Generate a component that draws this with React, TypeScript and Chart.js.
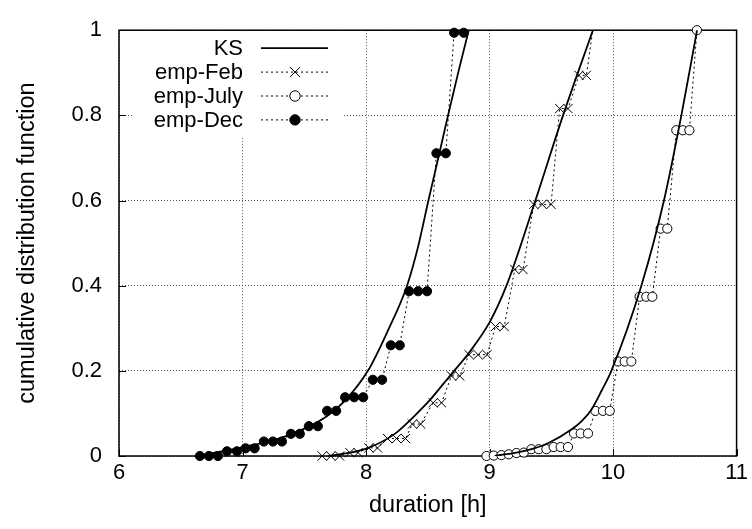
import React, { useEffect, useRef } from 'react';
import { Chart, registerables } from 'chart.js';

Chart.register(...registerables);

// ---- data (hours, cumulative fraction) ----
const decX = [6.655, 6.728, 6.801, 6.874, 6.955, 7.025, 7.098, 7.173, 7.246, 7.319, 7.392, 7.464, 7.537, 7.610, 7.685, 7.758, 7.831, 7.904, 7.977, 8.055, 8.130, 8.201, 8.273, 8.349, 8.422, 8.494, 8.570, 8.646, 8.713, 8.791];
const decY = [0, 0, 0, 0.011, 0.011, 0.018, 0.018, 0.034, 0.034, 0.034, 0.052, 0.052, 0.070, 0.070, 0.106, 0.106, 0.138, 0.138, 0.138, 0.179, 0.179, 0.26, 0.26, 0.387, 0.387, 0.387, 0.711, 0.711, 0.994, 0.994];

const febX = [7.645, 7.715, 7.786, 7.869, 7.936, 8.023, 8.093, 8.174, 8.247, 8.320, 8.375, 8.443, 8.543, 8.611, 8.692, 8.759, 8.834, 8.907, 8.980, 9.048, 9.119, 9.204, 9.271, 9.358, 9.426, 9.498, 9.568, 9.635, 9.724, 9.784, 9.855];
const febY = [0, 0, 0, 0.008, 0.008, 0.019, 0.019, 0.041, 0.041, 0.041, 0.075, 0.075, 0.125, 0.125, 0.188, 0.188, 0.238, 0.238, 0.238, 0.304, 0.304, 0.438, 0.438, 0.591, 0.591, 0.591, 0.816, 0.816, 0.894, 0.894, 1.04];

const julyX = [8.975, 9.034, 9.096, 9.155, 9.218, 9.277, 9.339, 9.398, 9.460, 9.519, 9.576, 9.635, 9.684, 9.738, 9.797, 9.857, 9.918, 9.973, 10.040, 10.094, 10.148, 10.215, 10.269, 10.318, 10.385, 10.439, 10.512, 10.565, 10.618, 10.679];
const julyY = [0, 0.001, 0.002, 0.004, 0.007, 0.008, 0.016, 0.016, 0.016, 0.021, 0.021, 0.021, 0.053, 0.053, 0.053, 0.106, 0.106, 0.106, 0.222, 0.222, 0.222, 0.374, 0.374, 0.374, 0.534, 0.534, 0.765, 0.765, 0.765, 1.0];

const ksDecX = [6.62, 6.82, 7.02, 7.25, 7.46, 7.68, 7.83, 8.015, 8.17, 8.332, 8.42, 8.505, 8.585, 8.664, 8.75, 8.832];
const ksDecY = [0, 0.01, 0.022, 0.037, 0.059, 0.093, 0.13, 0.2, 0.29, 0.4, 0.49, 0.6, 0.7, 0.8, 0.905, 1.0];

const ksFebX = [7.70, 7.99, 8.233, 8.395, 8.516, 8.678, 8.84, 9.002, 9.137, 9.371, 9.595, 9.837];
const ksFebY = [0, 0.016, 0.052, 0.095, 0.131, 0.188, 0.245, 0.315, 0.4, 0.6, 0.8, 1.0];

const ksJulyX = [9.042, 9.285, 9.473, 9.663, 9.75, 9.827, 9.91, 9.986, 10.229, 10.412, 10.553, 10.68];
const ksJulyY = [0, 0.012, 0.03, 0.062, 0.083, 0.11, 0.155, 0.2, 0.4, 0.6, 0.8, 1.0];

const yTickLabels = ['0', '0.2', '0.4', '0.6', '0.8', '1'];
const legendLabels = ['KS', 'emp-Feb', 'emp-July', 'emp-Dec'];
const xTitle = 'duration [h]';
const yTitle = 'cumulative distribution function';

const FONT = "'Liberation Sans', Arial, Helvetica, sans-serif";

function pts(xs: number[], ys: number[]) {
  return xs.map((x, i) => ({ x, y: ys[i] }));
}

function drawMarker(ctx: CanvasRenderingContext2D, style: string, x: number, y: number, r: number, fill: string) {
  ctx.save();
  ctx.setLineDash([]);
  ctx.lineWidth = 1;
  ctx.strokeStyle = '#000';
  if (style === 'crossRot') {
    ctx.beginPath();
    ctx.moveTo(x - r, y - r); ctx.lineTo(x + r, y + r);
    ctx.moveTo(x - r, y + r); ctx.lineTo(x + r, y - r);
    ctx.stroke();
  } else if (style === 'circle') {
    ctx.beginPath();
    ctx.arc(x, y, r, 0, Math.PI * 2);
    ctx.fillStyle = fill;
    ctx.fill();
    ctx.stroke();
  }
  ctx.restore();
}

const framePlugin = {
  id: 'frame',
  beforeDatasetsDraw(chart: any) {
    const { ctx, chartArea } = chart;
    const { left, top, right, bottom } = chartArea;
    ctx.save();
    ctx.setLineDash([]);
    ctx.strokeStyle = '#000';
    ctx.lineWidth = 1;
    const xs = chart.scales.x;
    const ys = chart.scales.y;
    ctx.beginPath();
    xs.ticks.forEach((t: any) => {
      const px = Math.round(xs.getPixelForValue(t.value)) + 0.5;
      ctx.moveTo(px, bottom); ctx.lineTo(px, bottom - 7);
    });
    ys.ticks.forEach((t: any) => {
      const py = Math.round(ys.getPixelForValue(t.value)) + 0.5;
      ctx.moveTo(left, py); ctx.lineTo(left + 7, py);
    });
    ctx.stroke();
    ctx.lineWidth = 1.5;
    ctx.strokeRect(left, top, right - left, bottom - top);
    ctx.restore();
  },
  afterDraw(chart: any) {
    const { ctx, chartArea } = chart;
    const { left, top } = chartArea;
    ctx.save();
    ctx.fillStyle = '#fff';
    ctx.fillRect(left + 14, top + 2, 209, 106);
    const rowY0 = top + 18;
    const rowGap = 23.9;
    const textRight = left + 124;
    const lineL = left + 142;
    const lineR = left + 209;
    const markX = left + 176;
    ctx.font = `22px ${FONT}`;
    ctx.textAlign = 'right';
    ctx.textBaseline = 'middle';
    legendLabels.forEach((lab, i) => {
      const ds = chart.data.datasets.find((d: any) => d.label === lab);
      const y = rowY0 + i * rowGap;
      ctx.fillStyle = '#000';
      ctx.fillText(lab, textRight, y + 1);
      ctx.beginPath();
      ctx.strokeStyle = '#000';
      ctx.lineWidth = ds.borderWidth;
      ctx.setLineDash(ds.borderDash || []);
      ctx.moveTo(lineL, y);
      ctx.lineTo(lineR, y);
      ctx.stroke();
      if (ds.pointRadius > 0) {
        drawMarker(ctx, ds.pointStyle, markX, y, ds.pointStyle === 'crossRot' ? 5 : 5.2, ds.pointBackgroundColor);
      }
    });
    ctx.restore();
  },
};

export default function App() {
  const ref = useRef<HTMLCanvasElement | null>(null);

  useEffect(() => {
    if (!ref.current) return;
    const ksStyle = {
      showLine: true,
      borderColor: '#000',
      borderWidth: 1.8,
      pointRadius: 0,
      pointHoverRadius: 0,
      cubicInterpolationMode: 'monotone' as const,
    };
    const empStyle = {
      showLine: true,
      borderColor: '#000',
      borderWidth: 1,
      borderDash: [2, 3],
      pointRadius: 4.6,
      pointHoverRadius: 4.6,
      pointBorderColor: '#000',
      pointBorderWidth: 1,
    };
    const tickFont = { family: FONT, size: 22, lineHeight: 1.2 };
    const titleFont = { family: FONT, size: 23.5, lineHeight: 1.2 };
    const chart = new Chart(ref.current, {
      type: 'scatter',
      data: {
        datasets: [
          { ...ksStyle, label: 'KS', data: pts(ksDecX, ksDecY) },
          { ...ksStyle, label: 'KS-feb', data: pts(ksFebX, ksFebY) },
          { ...ksStyle, label: 'KS-july', data: pts(ksJulyX, ksJulyY) },
          { ...empStyle, label: 'emp-Feb', data: pts(febX, febY), pointStyle: 'crossRot', pointRadius: 6.5, pointHoverRadius: 6.5, pointBackgroundColor: '#000', clip: { left: 8, right: 8, bottom: 8, top: 0 } },
          { ...empStyle, label: 'emp-July', data: pts(julyX, julyY), pointStyle: 'circle', pointBackgroundColor: '#fff', clip: 8 },
          { ...empStyle, label: 'emp-Dec', data: pts(decX, decY), pointStyle: 'circle', pointBackgroundColor: '#000', clip: 8 },
        ] as any,
      },
      options: {
        animation: false,
        responsive: false,
        devicePixelRatio: 1,
        events: [],
        layout: { padding: { top: 17, right: 15, left: 0, bottom: 0 } },
        plugins: { legend: { display: false }, tooltip: { enabled: false } },
        scales: {
          x: {
            type: 'linear',
            min: 6,
            max: 11,
            afterFit: (s: any) => { s.height = 73; },
            ticks: { stepSize: 1, padding: 4, color: '#000', font: tickFont, maxRotation: 0 },
            grid: { color: '#555', lineWidth: 1, drawTicks: false },
            border: { display: false, dash: [1, 2] },
            title: { display: true, text: xTitle, color: '#000', font: titleFont, padding: { top: 0, bottom: 9 } },
          },
          y: {
            type: 'linear',
            min: 0,
            max: 1,
            afterFit: (s: any) => { s.width = 119; },
            ticks: { stepSize: 0.2, padding: 17, color: '#000', font: tickFont, callback: (_v: any, i: number) => yTickLabels[i] },
            grid: { color: '#555', lineWidth: 1, drawTicks: false },
            border: { display: false, dash: [1, 2] },
            title: { display: true, text: yTitle, color: '#000', font: titleFont, padding: { top: 13, bottom: 0 } },
          },
        },
      } as any,
      plugins: [framePlugin],
    });
    return () => chart.destroy();
  }, []);

  return (
    <canvas
      ref={ref}
      width={752}
      height={529}
      style={{ position: 'fixed', left: 0, top: 0, width: 752, height: 529, display: 'block', background: '#fff' }}
    />
  );
}
